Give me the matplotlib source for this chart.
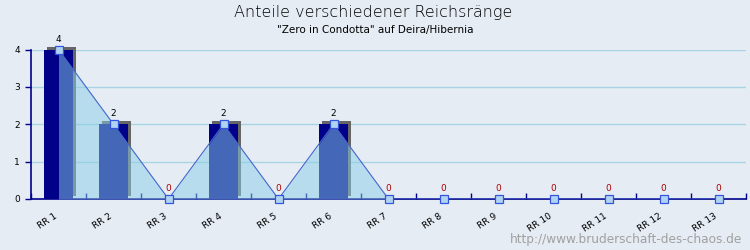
import matplotlib
matplotlib.use("Agg")
import matplotlib.pyplot as plt
import matplotlib.transforms as mtransforms
import numpy as np

categories = ["RR 1", "RR 2", "RR 3", "RR 4", "RR 5", "RR 6", "RR 7",
              "RR 8", "RR 9", "RR 10", "RR 11", "RR 12", "RR 13"]
values = [4, 2, 0, 2, 0, 2, 0, 0, 0, 0, 0, 0, 0]
yticks = [0, 1, 2, 3, 4]

title = "Anteile verschiedener Reichsränge"
subtitle = '"Zero in Condotta" auf Deira/Hibernia'
watermark = "http://www.bruderschaft-des-chaos.de"

bg = "#E6ECF4"
fig = plt.figure(figsize=(7.5, 2.5), dpi=100, facecolor=bg)
ax = fig.add_axes([31/750, 1-199/250, 715/750, 149.5/250])
ax.set_facecolor(bg)

x = np.arange(len(categories))
ax.set_xlim(-0.5, len(categories) - 0.5)
ax.set_ylim(0, 4)

# grid
for yv in yticks[1:]:
    ax.axhline(yv, color="#A8D4E4", lw=1, zorder=0.5)

bw = 0.53
shadow_tr = mtransforms.offset_copy(ax.transData, fig=fig, x=3, y=3, units="dots")
ax.bar(x, values, width=bw, color="#666666", transform=shadow_tr, zorder=1, clip_on=False)
ax.bar(x, values, width=bw, color="#000088", zorder=2)

# area
ax.fill_between(x, values, 0, color="#8ACEE8", alpha=0.5, zorder=3, lw=0)
ax.plot(x, values, color="#4466CC", lw=0.8, zorder=4)
ax.plot(x, values, ls="none", marker="s", ms=6, mfc="#B0D4F0", mec="#3355DD", mew=0.9,
        zorder=5, clip_on=False)

for xi, v in zip(x, values):
    ax.text(xi, v, f"{v}", ha="center", va="bottom", fontsize=6.5,
            color="#000000" if v else "#AA0000",
            transform=mtransforms.offset_copy(ax.transData, fig=fig, x=0, y=6, units="dots"),
            clip_on=False, zorder=6)

# axes styling
for s in ["top", "right"]:
    ax.spines[s].set_visible(False)
ax.spines["left"].set_color("#000088")
ax.spines["bottom"].set_color("#000088")
ax.spines["left"].set_linewidth(1.2)
ax.spines["bottom"].set_linewidth(1.2)

ax.set_yticks(yticks)
ax.set_yticklabels([str(v) for v in yticks], fontsize=6.5)
ax.tick_params(axis="y", direction="out", length=4, color="#000088", width=1, pad=4)

ax.set_xticks(x)
ax.set_xticklabels(categories, fontsize=6.5, rotation=33, ha="right",
                   rotation_mode="anchor")
ax.tick_params(axis="x", length=0, pad=9)
shift = mtransforms.ScaledTranslation(-5/100, 0, fig.dpi_scale_trans)
for lbl in ax.get_xticklabels():
    lbl.set_transform(lbl.get_transform() + shift)
ax.set_xticks(np.arange(len(categories) + 1) - 0.5, minor=True)
ax.tick_params(axis="x", which="minor", direction="in", length=4, color="#000088", width=1)

fig.text(373/750, 1-12/250, title, ha="center", va="center", fontsize=11.5,
         fontweight="light", color="#000000")
fig.text(375/750, 1-30/250, subtitle, ha="center", va="center", fontsize=7.5, color="#000000")
fig.text(742/750, 1-240/250, watermark, ha="right", va="center", fontsize=8.7, color="#A0A0A0")

fig.savefig("out.png", dpi=100, facecolor=bg)
